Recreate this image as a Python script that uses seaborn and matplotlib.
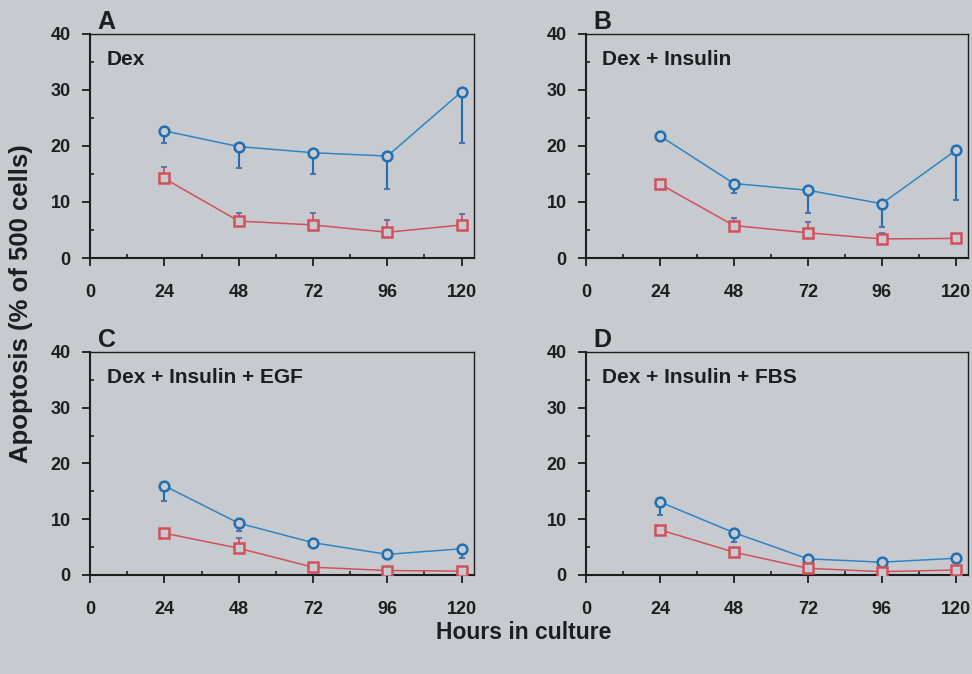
import matplotlib
matplotlib.use("Agg")
import matplotlib.pyplot as plt
from matplotlib.ticker import MultipleLocator
import numpy as np
import pandas as pd
import seaborn as sns

# Hours in culture
hours = [24, 48, 72, 96, 120]

panel_letters = ["A", "B", "C", "D"]
treatments = ["Dex", "Dex + Insulin", "Dex + Insulin + EGF", "Dex + Insulin + FBS"]

# Blue series (circles) means and downward error
blue_A = [22.7, 19.9, 18.8, 18.2, 29.7]
blue_A_err = [2.1, 3.9, 3.8, 5.8, 9.1]
blue_B = [21.8, 13.3, 12.1, 9.7, 19.2]
blue_B_err = [0.4, 1.7, 4.1, 4.2, 8.8]
blue_C = [16.0, 9.3, 5.8, 3.7, 4.7]
blue_C_err = [2.7, 1.4, 0.7, 0.3, 1.7]
blue_D = [13.1, 7.6, 2.9, 2.3, 3.0]
blue_D_err = [2.4, 1.6, 0.3, 0.2, 0.3]

# Red series (squares) means and upward error
red_A = [14.2, 6.6, 5.9, 4.6, 5.9]
red_A_err = [2.1, 1.5, 2.1, 2.1, 1.9]
red_B = [13.2, 5.8, 4.5, 3.4, 3.5]
red_B_err = [0.4, 1.3, 1.9, 1.1, 0.3]
red_C = [7.5, 4.8, 1.4, 0.8, 0.7]
red_C_err = [0.7, 1.8, 0.4, 0.2, 0.2]
red_D = [8.1, 4.1, 1.2, 0.6, 0.9]
red_D_err = [0.4, 0.4, 0.3, 0.2, 0.2]

blue_means = [blue_A, blue_B, blue_C, blue_D]
blue_errs = [blue_A_err, blue_B_err, blue_C_err, blue_D_err]
red_means = [red_A, red_B, red_C, red_D]
red_errs = [red_A_err, red_B_err, red_C_err, red_D_err]

BG = "#c7cbcf"
BLUE = "#2f84c4"
BLUE_EDGE = "#1f6fb2"
RED = "#d0505c"
INK = "#1e1e1e"

sns.set_theme(style="ticks")
plt.rcParams["font.family"] = ["Liberation Sans", "DejaVu Sans"]
plt.rcParams["font.weight"] = "bold"

fig = plt.figure(figsize=(9.72, 6.74), dpi=100, facecolor=BG)

positions = [
    [0.0926, 0.6172, 0.3951, 0.3324],
    [0.6029, 0.6172, 0.3930, 0.3324],
    [0.0926, 0.1469, 0.3951, 0.3309],
    [0.6029, 0.1469, 0.3930, 0.3309],
]

for i in range(4):
    ax = fig.add_axes(positions[i])
    ax.set_facecolor(BG)
    df = pd.DataFrame({
        "hours": hours * 2,
        "value": blue_means[i] + red_means[i],
        "series": ["blue"] * 5 + ["red"] * 5,
    })
    # error bars: blue downward, red upward
    ax.errorbar(hours, blue_means[i], yerr=[blue_errs[i], [0] * 5], fmt="none",
                ecolor=BLUE_EDGE, elinewidth=1.5, capsize=2, capthick=1.5, zorder=2)
    ax.errorbar(hours, red_means[i], yerr=[[0] * 5, red_errs[i]], fmt="none",
                ecolor=RED, elinewidth=1.3, capsize=2, capthick=1.3, zorder=2)
    sns.lineplot(data=df, x="hours", y="value", hue="series", style="series",
                 palette={"blue": BLUE, "red": RED},
                 markers={"blue": "o", "red": "s"}, dashes=False,
                 markersize=7, markeredgewidth=1.8, markerfacecolor=BG,
                 linewidth=1.1, legend=False, ax=ax, zorder=3)
    for line in ax.lines:
        c = line.get_color()
        line.set_markeredgecolor(BLUE_EDGE if c == BLUE else c)
        line.set_markerfacecolor(BG)
    ax.set_xlim(0, 124)
    ax.set_ylim(0, 40)
    ax.set_xticks([0, 24, 48, 72, 96, 120])
    ax.set_yticks([0, 10, 20, 30, 40])
    ax.xaxis.set_minor_locator(MultipleLocator(12))
    ax.yaxis.set_minor_locator(MultipleLocator(5))
    ax.tick_params(axis="both", which="major", direction="out", length=6, width=1.3,
                   colors=INK, labelsize=13, pad=8)
    ax.tick_params(axis="x", which="major", pad=13)
    ax.tick_params(axis="both", which="minor", direction="in", length=3, width=1.2, colors=INK)
    for lab in ax.get_xticklabels() + ax.get_yticklabels():
        lab.set_fontweight("bold")
        lab.set_color(INK)
    for side in ["left", "bottom", "top", "right"]:
        ax.spines[side].set_visible(True)
        ax.spines[side].set_color(INK)
    ax.spines["left"].set_linewidth(1.5)
    ax.spines["bottom"].set_linewidth(1.5)
    ax.spines["top"].set_linewidth(1.0)
    ax.spines["right"].set_linewidth(1.0)
    ax.set_xlabel("")
    ax.set_ylabel("")
    ax.text(0.043, 0.885, treatments[i], transform=ax.transAxes, fontsize=15,
            fontweight="bold", color=INK, ha="left", va="center")
    ax.text(0.02, 1.0, panel_letters[i], transform=ax.transAxes, fontsize=18,
            fontweight="bold", color=INK, ha="left", va="bottom")

fig.text(0.022, 0.549, "Apoptosis (% of 500 cells)", rotation=90, fontsize=18.5,
         fontweight="bold", color=INK, ha="center", va="center")
fig.text(0.539, 0.062, "Hours in culture", fontsize=16.5, fontweight="bold",
         color=INK, ha="center", va="center")

fig.savefig("out.png", dpi=100, facecolor=BG)
